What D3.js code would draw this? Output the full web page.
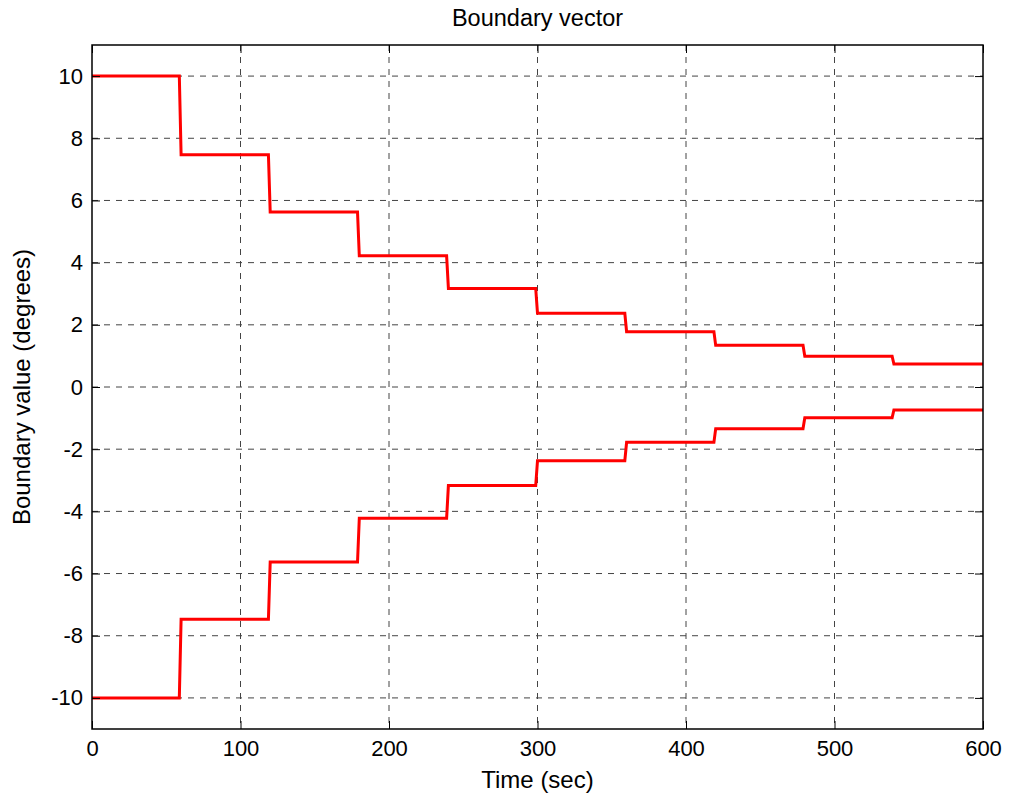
<!DOCTYPE html>
<html>
<head>
<meta charset="utf-8">
<script src="https://cdn.jsdelivr.net/npm/d3@7"></script>
<style>
  body { margin: 0; background: #fff; }
  text { font-family: "Liberation Sans", Arial, sans-serif; }
</style>
</head>
<body>
<div id="chart"></div>
<script>
// step times (sec) and boundary values per interval
var stepTimes = [0, 60, 120, 180, 240, 300, 360, 420, 480, 540]
var upperVals = [10, 7.47, 5.63, 4.22, 3.17, 2.37, 1.78, 1.34, 0.99, 0.74]
var lowerVals = [-10, -7.47, -5.63, -4.22, -3.17, -2.37, -1.78, -1.34, -0.99, -0.74]
var endTime = 600
var rampSec = 1.2
var xTicks = [0, 100, 200, 300, 400, 500, 600]
var yTicks = [-10, -8, -6, -4, -2, 0, 2, 4, 6, 8, 10]

var W = 1009, H = 798
var margin = {left: 92, right: 26, top: 45, bottom: 69}
var iw = W - margin.left - margin.right
var ih = H - margin.top - margin.bottom

var svg = d3.select('#chart').append('svg')
    .attr('width', W)
    .attr('height', H)

var x = d3.scaleLinear().domain([0, 600]).range([0, iw])
var y = d3.scaleLinear().domain([-11, 11]).range([ih, 0])

var g = svg.append('g').attr('transform', 'translate(' + margin.left + ',' + margin.top + ')')

// grid
g.selectAll('.vgrid').data(xTicks.slice(1, -1)).enter()
    .append('line')
    .attr('x1', function(d){ return x(d) }).attr('x2', function(d){ return x(d) })
    .attr('y1', 0).attr('y2', ih)
    .attr('stroke', '#444').attr('stroke-width', 1)
    .attr('stroke-dasharray', '6,6')
g.selectAll('.hgrid').data(yTicks).enter()
    .append('line')
    .attr('y1', function(d){ return y(d) }).attr('y2', function(d){ return y(d) })
    .attr('x1', 0).attr('x2', iw)
    .attr('stroke', '#444').attr('stroke-width', 1)
    .attr('stroke-dasharray', '6,6')

// build step points with a short ramp at each change
function stepPoints(vals){
  var pts = []
  vals.forEach(function(v, i){
    var t0 = stepTimes[i]
    var t1 = (i + 1 < stepTimes.length) ? stepTimes[i + 1] - rampSec : endTime
    pts.push([t0, v])
    pts.push([t1, v])
  })
  return pts
}

var line = d3.line()
    .x(function(d){ return x(d[0]) })
    .y(function(d){ return y(d[1]) })

;[upperVals, lowerVals].forEach(function(vals){
  g.append('path')
      .datum(stepPoints(vals))
      .attr('d', line)
      .attr('fill', 'none')
      .attr('stroke', '#ff0000')
      .attr('stroke-width', 3)
      .attr('stroke-linejoin', 'miter')
})

// axes
var fmt = function(d){ return String(d) }
var xAxis = d3.axisBottom(x).tickValues(xTicks).tickSize(-8).tickPadding(11).tickFormat(fmt)
var yAxis = d3.axisLeft(y).tickValues(yTicks).tickSize(-8).tickPadding(9).tickFormat(fmt)

var gx = g.append('g').attr('transform', 'translate(0,' + ih + ')').call(xAxis)
var gy = g.append('g').call(yAxis)
var gx2 = g.append('g').call(d3.axisTop(x).tickValues(xTicks).tickSize(-8).tickFormat(''))
var gy2 = g.append('g').attr('transform', 'translate(' + iw + ',0)').call(d3.axisRight(y).tickValues(yTicks).tickSize(-8).tickFormat(''))

;[gx, gy, gx2, gy2].forEach(function(a){
  a.attr('font-family', null).attr('font-size', null)
  a.select('.domain').remove()
  a.selectAll('line').attr('stroke', '#000')
  a.selectAll('text').style('font-size', '22px').attr('fill', '#000')
})

g.append('rect')
    .attr('width', iw).attr('height', ih)
    .attr('fill', 'none')
    .attr('stroke', '#000')
    .attr('stroke-width', 1.5)

// labels
svg.append('text')
    .attr('x', margin.left + iw / 2).attr('y', 26)
    .attr('text-anchor', 'middle')
    .style('font-size', '23.5px')
    .text('Boundary vector')

svg.append('text')
    .attr('x', margin.left + iw / 2).attr('y', 788)
    .attr('text-anchor', 'middle')
    .style('font-size', '24px')
    .text('Time (sec)')

svg.append('text')
    .attr('transform', 'translate(30,' + (margin.top + ih / 2) + ') rotate(-90)')
    .attr('text-anchor', 'middle')
    .style('font-size', '24px')
    .text('Boundary value (degrees)')
</script>
</body>
</html>
